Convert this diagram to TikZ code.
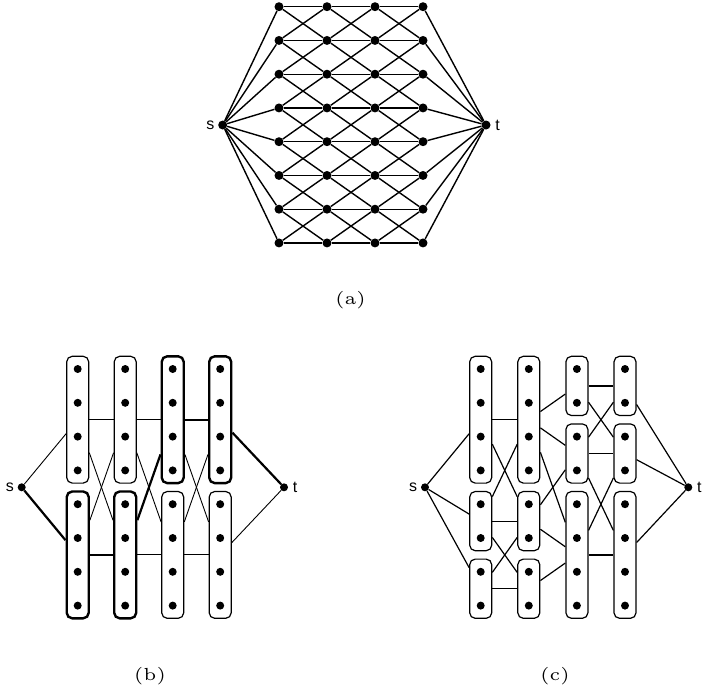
\documentclass[tikz,border=0pt]{standalone}
\usepackage{fontspec}
\newfontfamily\stfont{Liberation Sans}
\usetikzlibrary{fit}

\begin{document}
\begin{tikzpicture}[x=1pt,y=-1pt,
  dot/.style={circle,fill=black,inner sep=0pt,minimum size=8pt},
  bigdot/.style={dot,minimum size=9pt},
  grp/.style={draw,rounded corners=5.5pt,inner xsep=6.8pt,inner ysep=8.5pt,line width=1.2pt},
  thickgrp/.style={grp,line width=2.4pt},
  thinline/.style={line width=0.9pt},
  boldline/.style={line width=2.2pt},
  lbl/.style={font=\stfont\fontsize{16}{19}\selectfont,inner sep=1pt},
  capt/.style={scale=3.5,font=\fontsize{5}{6}\selectfont}]

\useasboundingbox (0,0) rectangle (707,691);

% (a) full layered graph
\foreach \i in {1,...,4}
  \foreach \j in {1,...,8}
    \node[bigdot] (a-\i-\j) at ({279+48*(\i-1)},{6.7+33.75*(\j-1)}) {};
\node[bigdot,label={[lbl,label distance=2.5pt]left:s}] (as) at (222.7,125) {};
\node[bigdot,label={[lbl,label distance=3.5pt]right:t}] (at) at (486,125) {};
\begin{scope}[line width=1.4pt]
\foreach \j in {1,...,8} {
  \draw (as) -- (a-1-\j);
  \draw (a-4-\j) -- (at);
}
\foreach \i [evaluate=\i as \n using int(\i+1)] in {1,2,3}
  \foreach \j in {1,...,8}
    \foreach \k in {1,...,8} {
      \pgfmathtruncatemacro\d{abs(\j-\k)}
      \ifnum\d<2 \draw (a-\i-\j) -- (a-\n-\k); \fi
    }
\end{scope}
\node[capt] (capa) at (350.5,300.3) {(a)};

% (b) two groups per layer
\foreach \i in {1,...,4}
  \foreach \j in {1,...,8}
    \node[dot] (b-\i-\j) at ({77.7+47.5*(\i-1)},{369+33.8*(\j-1)}) {};
\node[dot,label={[lbl,label distance=2.5pt]left:s}] (bs) at (21.7,487.3) {};
\node[dot,label={[lbl,label distance=3.5pt]right:t}] (bt) at (284,487.3) {};
\foreach \i/\st/\sb in {1/grp/thickgrp,2/grp/thickgrp,3/thickgrp/grp,4/thickgrp/grp} {
  \node[\st,fit=(b-\i-1)(b-\i-4)] (bu\i) {};
  \node[\sb,fit=(b-\i-5)(b-\i-8)] (bl\i) {};
}
\foreach \u/\v in {bs/bu1,bu1/bu2,bu2/bu3,bu1/bl2,bl1/bu2,bu2/bl3,bl2/bl3,
                   bu3/bl4,bl3/bu4,bl3/bl4,bl4/bt}
  \draw[thinline] (\u) -- (\v);
\foreach \u/\v in {bs/bl1,bl1/bl2,bl2/bu3,bu3/bu4,bu4/bt}
  \draw[boldline] (\u) -- (\v);
\node[capt] (capb) at (150,676) {(b)};

% (c) three groups per layer
\foreach \i in {1,...,4}
  \foreach \j in {1,...,8}
    \node[dot] (c-\i-\j) at ({480.7+48.1*(\i-1)},{369+33.8*(\j-1)}) {};
\node[dot,label={[lbl,label distance=2.5pt]left:s}] (cs) at (425,487.3) {};
\node[dot,label={[lbl,label distance=3.5pt]right:t}] (ct) at (688.3,487.3) {};
\foreach \i in {1,2} {
  \node[grp,fit=(c-\i-1)(c-\i-4)] (c\i1) {};
  \node[grp,fit=(c-\i-5)(c-\i-6)] (c\i2) {};
  \node[grp,fit=(c-\i-7)(c-\i-8)] (c\i3) {};
}
\foreach \i in {3,4} {
  \node[grp,fit=(c-\i-1)(c-\i-2)] (c\i1) {};
  \node[grp,fit=(c-\i-3)(c-\i-4)] (c\i2) {};
  \node[grp,fit=(c-\i-5)(c-\i-8)] (c\i3) {};
}
\foreach \u/\v in {cs/c11,cs/c12,cs/c13,
                   c11/c21,c11/c22,c12/c21,c12/c22,c12/c23,c13/c22,c13/c23,
                   c21/c31,c21/c32,c21/c33,c22/c32,c22/c33,c23/c33,
                   c31/c41,c31/c42,c32/c41,c32/c42,c32/c43,c33/c42,c33/c43,
                   c41/ct,c42/ct,c43/ct}
  \draw[line width=1.2pt] (\u) -- (\v);
\node[capt] (capc) at (555,676) {(c)};
\end{tikzpicture}
\end{document}
